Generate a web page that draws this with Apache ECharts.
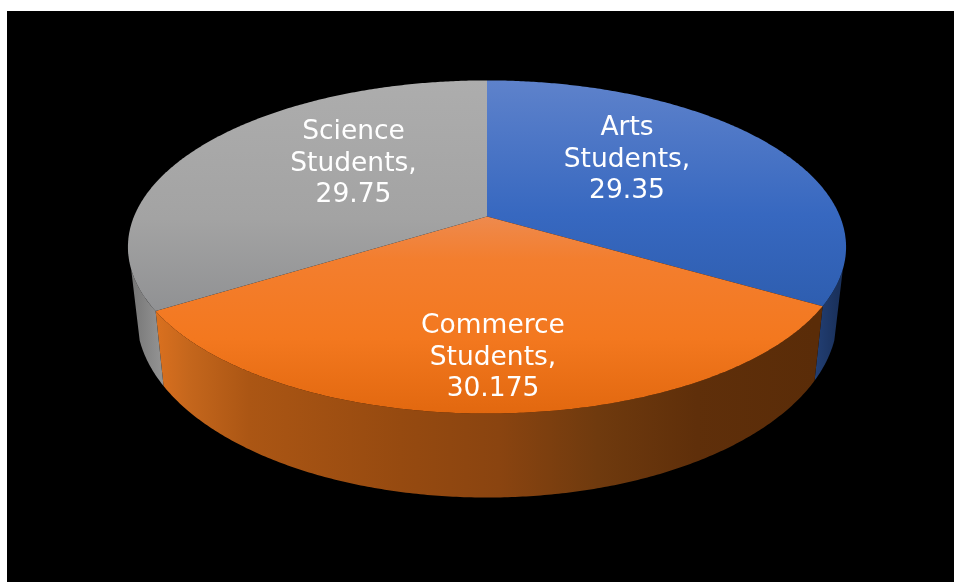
<!DOCTYPE html>
<html>
<head>
<meta charset="utf-8">
<style>html,body{margin:0;padding:0;background:#fff}#chart{width:954px;height:582px}</style>
<script src="https://cdn.jsdelivr.net/npm/echarts@6/dist/echarts.min.js"></script>
</head>
<body>
<div id="chart"></div>
<script>
// Student shares by stream, clockwise from twelve o'clock
const categories = ['Arts Students', 'Commerce Students', 'Science Students'];
const values = [29.35, 30.175, 29.75];
const valueLabels = ['29.35', '30.175', '29.75'];

// Perspective projection of the pie disc onto the page
const CX = 487, APEX_Y = 216.5, DISC_A = 353, DISC_B = 161, PERSPECTIVE = 0.183;
const FORESHORTEN = 2.4;            // degrees of angular compression towards the viewer
const WALL_X = 0.976, WALL_Y = 1.0887, WALL_DROP = 66.5;
const WALL_FROM = 108, WALL_TO = 252;
const labelCenters = [[627, 160], [493, 358], [353.5, 164]];
const LINE_H = 31.5;

const G = echarts.graphic;
const vGrad = (y0, y1, stops) => new G.LinearGradient(0, y0, 0, y1, stops, true);
const hGrad = (x0, x1, stops) => new G.LinearGradient(x0, 0, x1, 0, stops, true);

const topFills = [
  vGrad(80, 305, [{offset: 0, color: '#5E82CB'}, {offset: 0.6, color: '#3768C0'}, {offset: 1, color: '#2E5EB0'}]),
  vGrad(216, 413, [{offset: 0, color: '#EE8A4E'}, {offset: 0.22, color: '#F37E2E'}, {offset: 0.62, color: '#F3781F'}, {offset: 1, color: '#E2680F'}]),
  vGrad(80, 312, [{offset: 0, color: '#ADADAD'}, {offset: 0.6, color: '#A3A3A3'}, {offset: 1, color: '#909193'}])
];
const wallFills = [
  hGrad(815, 838, [{offset: 0, color: '#223F74'}, {offset: 1, color: '#1A315C'}]),
  hGrad(157, 815, [
    {offset: 0, color: '#D9701F'}, {offset: 0.05, color: '#C4661C'}, {offset: 0.14, color: '#AB5614'},
    {offset: 0.37, color: '#964A10'}, {offset: 0.52, color: '#8A4410'}, {offset: 0.67, color: '#6F3A0E'},
    {offset: 0.82, color: '#5F2F0A'}, {offset: 1, color: '#5A2C08'}
  ]),
  hGrad(132, 160, [{offset: 0, color: '#767676'}, {offset: 1, color: '#929292'}])
];

const total = values.reduce((a, b) => a + b, 0);
const sweep = i => {
  const before = values.slice(0, i).reduce((a, b) => a + b, 0);
  return [before / total * 360, (before + values[i]) / total * 360];
};
const rad = d => d * Math.PI / 180;
const warp = t => t - FORESHORTEN * Math.sin(rad(2 * t));

// Rim point of the upper face at a clockwise angle on the page disc
function rim(t) {
  const u = Math.sin(rad(t)), v = Math.cos(rad(t)), w = 1 + PERSPECTIVE * v;
  return [CX + DISC_A * u / w, APEX_Y - DISC_B * v / w];
}
// The same rim angle on the lower edge of the wall
function lowerRim(t) {
  const p = rim(t);
  return [CX + (p[0] - CX) * WALL_X, APEX_Y + (p[1] - APEX_Y) * WALL_Y + WALL_DROP];
}
function arc(a, b, fn) {
  const pts = [], n = Math.max(2, Math.ceil(Math.abs(b - a) * 2));
  for (let k = 0; k <= n; k++) pts.push(fn(a + (b - a) * k / n));
  return pts;
}

const seriesData = values.map(v => [v]);

const option = {
  animation: false,
  backgroundColor: '#fff',
  graphic: [{type: 'rect', z: -10, shape: {x: 7, y: 11, width: 947, height: 571}, style: {fill: '#000'}, silent: true}],
  series: [
    {
      type: 'custom', coordinateSystem: 'none', z: 1, silent: true, data: seriesData,
      renderItem(params) {
        const [s, e] = sweep(params.dataIndex);
        const a = Math.max(warp(s), WALL_FROM), b = Math.min(warp(e), WALL_TO);
        if (b <= a) return null;
        const points = arc(a, b, rim).concat(arc(b, a, lowerRim));
        return {type: 'polygon', shape: {points}, style: {fill: wallFills[params.dataIndex]}};
      }
    },
    {
      type: 'custom', coordinateSystem: 'none', z: 2, silent: true, data: seriesData,
      renderItem(params) {
        const [s, e] = sweep(params.dataIndex);
        const points = [[CX, APEX_Y]].concat(arc(warp(s), warp(e), rim));
        return {type: 'polygon', shape: {points}, style: {fill: topFills[params.dataIndex]}};
      }
    },
    {
      type: 'custom', coordinateSystem: 'none', z: 3, silent: true, data: seriesData,
      renderItem(params) {
        const i = params.dataIndex;
        const lines = categories[i].replace(' ', '\n') + ',\n' + valueLabels[i];
        return {
          type: 'text',
          style: {
            x: labelCenters[i][0], y: labelCenters[i][1], text: lines,
            align: 'center', verticalAlign: 'middle', lineHeight: LINE_H,
            fill: '#fff', fontSize: 26.5, fontFamily: '"DejaVu Sans", Verdana, sans-serif'
          }
        };
      }
    }
  ]
};
echarts.init(document.getElementById('chart'), null, {renderer: 'canvas'}).setOption(option);
</script>
</body>
</html>
